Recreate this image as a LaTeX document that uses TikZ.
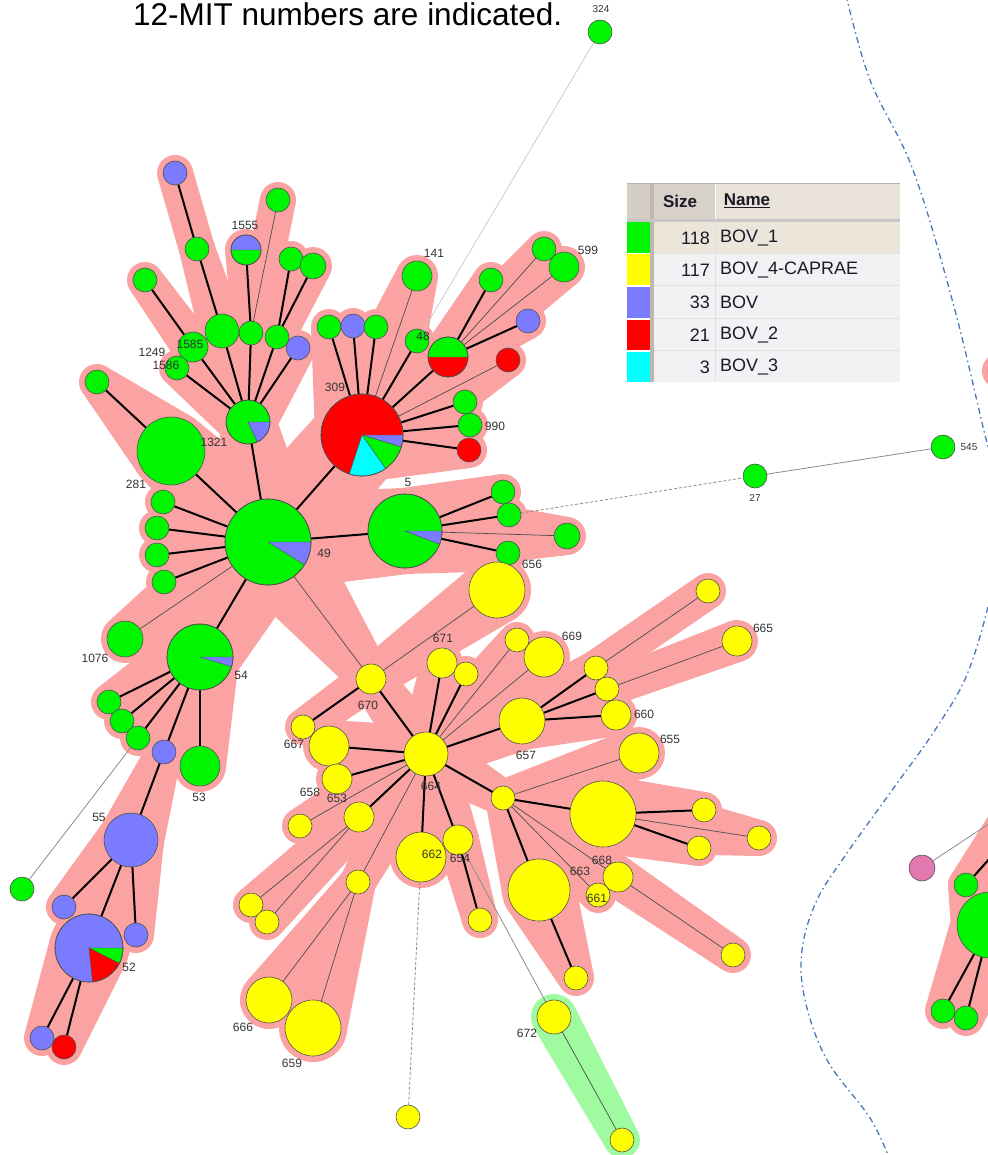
\documentclass[tikz,border=0pt]{standalone}
\usepackage{fontspec}
\setmainfont{Liberation Sans}
\usetikzlibrary{calc}
\pgfdeclarelayer{bg}
\pgfdeclarelayer{halo}
\pgfdeclarelayer{edges}
\pgfsetlayers{bg,halo,edges,main}
\definecolor{cG}{RGB}{0,245,0}
\definecolor{cY}{RGB}{255,255,0}
\definecolor{cB}{RGB}{123,123,255}
\definecolor{cR}{RGB}{255,0,0}
\definecolor{cC}{RGB}{0,255,255}
\definecolor{cP}{RGB}{226,120,176}
\definecolor{halocol}{RGB}{251,163,163}
\definecolor{ghalo}{RGB}{160,250,160}
\definecolor{bord}{RGB}{80,80,80}
\definecolor{curvecol}{RGB}{70,120,190}
\definecolor{hdrL}{RGB}{212,206,198}
\definecolor{hdrS}{RGB}{216,209,200}
\definecolor{hdrN}{RGB}{232,226,216}
\definecolor{sepc}{RGB}{190,184,176}
\definecolor{rowA}{RGB}{236,230,218}
\definecolor{rowB}{RGB}{242,242,245}
\definecolor{ltx}{RGB}{25,25,40}
\tikzset{
  nd/.style={circle, draw=bord, line width=0.6pt, inner sep=0pt, outer sep=0pt},
  lb/.style={font=\fontsize{12}{12}\selectfont, text=black!80, inner sep=0pt},
  lbs/.style={font=\fontsize{10}{10}\selectfont, text=black!80, inner sep=0pt},
  thk/.style={line width=2pt, black},
  thn/.style={line width=0.7pt, black!70},
  lgr/.style={line width=0.7pt, black!22},
  mgr/.style={line width=0.8pt, black!45},
  dsh/.style={line width=0.8pt, black!45, dash pattern=on 3pt off 2pt},
  curve/.style={draw=curvecol, line width=1.3pt, dash pattern=on 6pt off 3.5pt on 1.5pt off 3.5pt},
  lgt/.style={font=\fontsize{18}{18}\selectfont, text=ltx, inner sep=0pt},
}
\def\hm{6pt}
\newcommand\nd[5]{\node[nd, fill=#5, minimum size={2*#4pt}] (#1) at (#2,#3) {};\expandafter\xdef\csname rad-#1\endcsname{#4}}
\newcommand\pie[4]{\edef\pr{\csname rad-#1\endcsname}%
  \fill[#2, draw=bord, line width=0.4pt] (#1.center) -- ++(#3:\pr pt) arc[start angle=#3, end angle=#4, radius=\pr pt] -- cycle;}
\newcommand\rim[1]{\edef\pr{\csname rad-#1\endcsname}\draw[bord, line width=0.6pt] (#1.center) circle[radius=\pr pt];}
\newcommand\hlx[5]{%
  \fill[#1] let \p1=(#2.center), \p2=(#3.center),
    \n1={atan2(\y2-\y1,\x2-\x1)}, \n2={veclen(\x2-\x1,\y2-\y1)},
    \n3={acos((#4-#5)/\n2)} in
    ($(\p1)+(\n1+\n3:#4pt+\hm)$) -- ($(\p2)+(\n1+\n3:#5pt+\hm)$) --
    ($(\p2)+(\n1-\n3:#5pt+\hm)$) -- ($(\p1)+(\n1-\n3:#4pt+\hm)$) -- cycle;
  \fill[#1] (#2.center) circle[radius=#4pt+\hm];
  \fill[#1] (#3.center) circle[radius=#5pt+\hm];}
\newcommand\hl[3][halocol]{\edef\hlcall{\noexpand\hlx{#1}{#2}{#3}{\csname rad-#2\endcsname}{\csname rad-#3\endcsname}}\hlcall}
\begin{document}
\begin{tikzpicture}[x=1pt,y=-1pt]
\useasboundingbox (0,0) rectangle (987,1155);
\begin{pgfonlayer}{bg}
\fill[white] (0,0) rectangle (987,1155);
\end{pgfonlayer}
\node[anchor=base west, font=\fontsize{31.5}{31.5}\selectfont, inner sep=0pt] (title) at (133,26) {12-MIT numbers are indicated.};

% ---------- nodes: top-left cluster
\nd{hA}{248}{422}{22}{cG}
\nd{n1321}{171}{451}{34}{cG}
\nd{t97}{97}{382}{12}{cG}
\nd{tBlue}{175}{173}{12}{cB}
\nd{tG1}{197}{249}{12}{cG}
\nd{tG2}{222}{331}{17}{cG}
\nd{tG3}{278}{200}{12}{cG}
\nd{tG4}{251}{333}{12}{cG}
\nd{n1555}{246}{250}{15}{cG}
\nd{tG5}{291}{259}{12}{cG}
\nd{tG6}{313}{266}{13}{cG}
\nd{tG7}{277}{337}{12}{cG}
\nd{tB2}{298}{348}{12}{cB}
\nd{t145}{145}{280}{12}{cG}
\nd{n1585}{193}{347}{15}{cG}
\nd{n1586}{177}{368}{12}{cG}
% hub 49
\nd{h49}{268}{542}{43}{cG}
\nd{l1}{163}{502}{12}{cG}
\nd{l2}{157}{528}{12}{cG}
\nd{l3}{157}{555}{12}{cG}
\nd{l4}{164}{582}{12}{cG}
\nd{n1076}{125}{639}{18}{cG}
\nd{h54}{200}{657}{33}{cG}
% hub 309
\nd{h309}{362}{435}{41}{cR}
\nd{a1}{329}{327}{12}{cG}
\nd{a2}{353}{326}{12}{cB}
\nd{a3}{376}{327}{12}{cG}
\nd{n141}{417}{276}{15}{cG}
\nd{n48}{417}{341}{12}{cG}
\nd{p48}{448}{357}{20}{cR}
\nd{b1}{491}{280}{12}{cG}
\nd{b2}{544}{249}{12}{cG}
\nd{n599}{564}{267}{15}{cG}
\nd{b3}{528}{321}{12}{cB}
\nd{c1}{508}{360}{12}{cR}
\nd{c2}{465}{402}{12}{cG}
\nd{n990}{470}{425}{12}{cG}
\nd{c3}{469}{450}{12}{cR}
\nd{n324}{600}{32}{12}{cG}
% hub 5
\nd{h5}{405}{531}{37}{cG}
\nd{d1}{503}{492}{12}{cG}
\nd{d2}{509}{515}{12}{cG}
\nd{d3}{567}{536}{13}{cG}
\nd{n656}{508}{553}{12}{cG}
\nd{n27}{755}{476}{12}{cG}
\nd{n545}{943}{447}{12}{cG}
% yellow cluster
\nd{Y1}{497}{590}{28}{cY}
\nd{n670}{371}{679}{15}{cY}
\nd{n667}{303}{727}{12}{cY}
\nd{h664}{426}{754}{22}{cY}
\nd{n671}{442}{663}{15}{cY}
\nd{e1}{466}{674}{12}{cY}
\nd{e2}{517}{640}{12}{cY}
\nd{n669}{544}{657}{20}{cY}
\nd{n657}{522}{721}{23}{cY}
\nd{hs}{503}{798}{12}{cY}
\nd{n654}{458}{840}{15}{cY}
\nd{n662}{421}{857}{25}{cY}
\nd{f1}{329}{746}{20}{cY}
\nd{n653}{337}{779}{15}{cY}
\nd{f2}{359}{817}{15}{cY}
\nd{f3}{300}{826}{12}{cY}
\nd{f4}{358}{882}{12}{cY}
\nd{g1}{251}{905}{12}{cY}
\nd{g2}{267}{922}{12}{cY}
\nd{n666}{269}{1000}{23}{cY}
\nd{n659}{313}{1028}{28}{cY}
\nd{ybot}{408}{1117}{12}{cY}
\nd{k1}{480}{920}{12}{cY}
\nd{n672}{554}{1017}{17}{cY}
\nd{yend}{622}{1140}{12}{cY}
\nd{m1}{596}{668}{12}{cY}
\nd{m2}{607}{689}{12}{cY}
\nd{n660}{616}{715}{15}{cY}
\nd{m3}{708}{591}{12}{cY}
\nd{n665}{737}{641}{15}{cY}
\nd{n655}{639}{753}{20}{cY}
\nd{Yb}{603}{814}{33}{cY}
\nd{q1}{704}{810}{12}{cY}
\nd{q2}{759}{838}{12}{cY}
\nd{q3}{699}{848}{12}{cY}
\nd{n663}{539}{890}{31}{cY}
\nd{q4}{576}{978}{12}{cY}
\nd{n668}{618}{877}{15}{cY}
\nd{q5}{733}{955}{12}{cY}
\nd{n661}{598}{895}{12}{cY}
% bottom-left
\nd{s1}{109}{702}{12}{cG}
\nd{s2}{122}{721}{12}{cG}
\nd{s3}{138}{738}{12}{cG}
\nd{s4}{164}{752}{12}{cB}
\nd{n53}{200}{766}{20}{cG}
\nd{s5}{22}{889}{12}{cG}
\nd{n55}{131}{840}{27}{cB}
\nd{u1}{64}{907}{12}{cB}
\nd{h52}{89}{948}{34}{cB}
\nd{u2}{136}{935}{12}{cB}
\nd{v1}{42}{1038}{12}{cB}
\nd{v2}{64}{1047}{12}{cR}
% right partial cluster
\nd{rtop}{1000}{371}{12}{cB}
\nd{pk}{922}{868}{13}{cP}
\nd{rg1}{966}{885}{12}{cG}
\nd{rbig}{990}{925}{33}{cG}
\nd{rg2}{943}{1011}{12}{cG}
\nd{rg3}{966}{1018}{12}{cG}
\coordinate (offA) at (1040,790);
\coordinate (offB) at (1015,830);
\expandafter\xdef\csname rad-offB\endcsname{24}

% ---------- pies
\pie{hA}{cB}{-65}{0}\rim{hA}
\pie{h49}{cB}{-32}{0}\rim{h49}
\pie{h54}{cB}{-17}{0}\rim{h54}
\pie{h309}{cB}{-17}{0}\pie{h309}{cG}{-55}{-17}\pie{h309}{cC}{-108}{-55}\rim{h309}
\pie{h5}{cB}{-21}{0}\rim{h5}
\pie{p48}{cG}{0}{180}\rim{p48}
\pie{n1555}{cB}{0}{180}\rim{n1555}
\pie{h52}{cG}{-27}{0}\pie{h52}{cR}{-84}{-27}\rim{h52}

% ---------- labels
\node[lb] (L1555) at (245,225) {1555};
\node[lb] (L1249) at (152,352) {1249};
\node[lb] (L1585) at (190,344) {1585};
\node[lb] (L1586) at (166,365) {1586};
\node[lb] (L1321) at (214,442) {1321};
\node[lb] (L281) at (136,484) {281};
\node[lb] (L49) at (324,553) {49};
\node[lb] (L54) at (241,675) {54};
\node[lb] (L1076) at (95,658) {1076};
\node[lb] (L309) at (335,387) {309};
\node[lb] (L141) at (434,253) {141};
\node[lb] (L48) at (423,336) {48};
\node[lb] (L599) at (588,250) {599};
\node[lb] (L990) at (495,426) {990};
\node[lb] (L5) at (408,482) {5};
\node[lb] (L656) at (532,564) {656};
\node[lbs] (L324) at (601,9) {324};
\node[lbs] (L27) at (755,498) {27};
\node[lbs] (L545) at (969,447) {545};
\node[lb] (L671) at (443,638) {671};
\node[lb] (L670) at (368,705) {670};
\node[lb] (L667) at (294,744) {667};
\node[lb] (L657) at (526,755) {657};
\node[lb] (L664) at (431,786) {664};
\node[lb] (L658) at (310,792) {658};
\node[lb] (L653) at (337,798) {653};
\node[lb] (L662) at (432,854) {662};
\node[lb] (L654) at (460,858) {654};
\node[lb] (L669) at (572,636) {669};
\node[lb] (L665) at (763,628) {665};
\node[lb] (L660) at (644,714) {660};
\node[lb] (L655) at (670,739) {655};
\node[lb] (L668) at (602,860) {668};
\node[lb] (L663) at (580,871) {663};
\node[lb] (L661) at (597,898) {661};
\node[lb] (L666) at (243,1027) {666};
\node[lb] (L659) at (292,1063) {659};
\node[lb] (L672) at (527,1033) {672};
\node[lb] (L53) at (199,797) {53};
\node[lb] (L55) at (99,817) {55};
\node[lb] (L52) at (129,967) {52};

% ---------- halos
\begin{pgfonlayer}{halo}
\hl{tBlue}{tG1}\hl{tG1}{tG2}\hl{tG2}{hA}\hl{tG3}{tG4}\hl{n1555}{tG4}\hl{tG4}{hA}
\hl{tG5}{tG7}\hl{tG6}{tG7}\hl{tG7}{hA}\hl{tB2}{hA}\hl{t145}{n1585}\hl{n1585}{hA}
\hl{n1586}{hA}\hl{t97}{n1321}\hl{n1321}{h49}\hl{hA}{h49}
\hl{h49}{l1}\hl{h49}{l2}\hl{h49}{l3}\hl{h49}{l4}\hl{h49}{n1076}\hl{h49}{h54}
\hl{h49}{h309}\hl{h49}{h5}\hl{h49}{n670}
\hl{h309}{a1}\hl{h309}{a2}\hl{h309}{a3}\hl{h309}{n141}\hl{h309}{n48}\hl{h309}{p48}
\hl{h309}{c1}\hl{h309}{c2}\hl{h309}{n990}\hl{h309}{c3}
\hl{p48}{b1}\hl{p48}{b2}\hl{p48}{n599}\hl{p48}{b3}
\hl{h5}{d1}\hl{h5}{d2}\hl{h5}{d3}\hl{h5}{n656}
\hl{Y1}{n670}\hl{n670}{n667}\hl{n670}{h664}
\hl{h664}{n671}\hl{h664}{e1}\hl{h664}{e2}\hl{h664}{n669}\hl{h664}{n657}\hl{h664}{hs}
\hl{h664}{n654}\hl{h664}{n662}\hl{h664}{f1}\hl{h664}{n653}\hl{h664}{f2}\hl{h664}{f3}\hl{h664}{f4}
\hl{f2}{g1}\hl{f2}{g2}\hl{f4}{n666}\hl{f4}{n659}\hl{n654}{k1}
\hl{n657}{m1}\hl{n657}{m2}\hl{n657}{n660}\hl{m1}{m3}\hl{m2}{n665}
\hl{hs}{n655}\hl{hs}{Yb}\hl{Yb}{q1}\hl{Yb}{q2}\hl{Yb}{q3}\hl{hs}{n663}\hl{n663}{q4}
\hl{hs}{n668}\hl{n668}{q5}\hl{hs}{n661}
\hl{h54}{s1}\hl{h54}{s2}\hl{h54}{s3}\hl{h54}{s4}\hl{h54}{n53}\hl{s4}{n55}
\hl{n55}{u1}\hl{n55}{h52}\hl{n55}{u2}\hl{h52}{v1}\hl{h52}{v2}
\hl[ghalo]{n672}{yend}
\hl{rbig}{rg2}\hl{rbig}{rg3}\hl{rbig}{rg1}\hl{rg1}{offB}
\fill[halocol] (rtop) circle[radius=18pt];
\end{pgfonlayer}

% ---------- edges
\begin{pgfonlayer}{edges}
\draw[thk] (tBlue) -- (tG1); \draw[thk] (tG1) -- (tG2); \draw[thk] (tG2) -- (hA);
\draw[thn] (tG3) -- (tG4); \draw[thk] (n1555) -- (tG4); \draw[thk] (tG4) -- (hA);
\draw[thk] (tG5) -- (tG7); \draw[thk] (tG6) -- (tG7); \draw[thk] (tG7) -- (hA);
\draw[thk] (tB2) -- (hA); \draw[thk] (t145) -- (n1585); \draw[thk] (n1585) -- (hA);
\draw[thk] (n1586) -- (hA); \draw[thk] (t97) -- (n1321); \draw[thk] (n1321) -- (h49);
\draw[thk] (hA) -- (h49);
\draw[thk] (h49) -- (l1); \draw[thk] (h49) -- (l2); \draw[thk] (h49) -- (l3); \draw[thk] (h49) -- (l4);
\draw[thn] (h49) -- (n1076); \draw[thk] (h49) -- (h54); \draw[thk] (h49) -- (h309);
\draw[thk] (h49) -- (h5); \draw[thn] (h49) -- (n670);
\draw[thk] (h309) -- (a1); \draw[thk] (h309) -- (a2); \draw[thk] (h309) -- (a3);
\draw[thn] (h309) -- (n141); \draw[thk] (h309) -- (n48); \draw[thk] (h309) -- (p48);
\draw[thn] (h309) -- (c1); \draw[thk] (h309) -- (c2); \draw[thk] (h309) -- (n990); \draw[thk] (h309) -- (c3);
\draw[thk] (p48) -- (b1); \draw[thn] (p48) -- (b2); \draw[thn] (p48) -- (n599); \draw[thk] (p48) -- (b3);
\draw[lgr] (n324) -- (n48);
\draw[thk] (h5) -- (d1); \draw[thk] (h5) -- (d2); \draw[thn] (h5) -- (d3); \draw[thk] (h5) -- (n656);
\draw[dsh] (d2) -- (n27); \draw[mgr] (n27) -- (n545);
\draw[thn] (Y1) -- (n670); \draw[thk] (n670) -- (n667); \draw[thk] (n670) -- (h664);
\draw[thk] (h664) -- (n671); \draw[thk] (h664) -- (e1); \draw[thn] (h664) -- (e2);
\draw[thn] (h664) -- (n669); \draw[thk] (h664) -- (n657); \draw[thk] (h664) -- (hs);
\draw[thk] (h664) -- (n654); \draw[thk] (h664) -- (n662); \draw[thk] (h664) -- (f1);
\draw[thk] (h664) -- (n653); \draw[thk] (h664) -- (f2); \draw[thn] (h664) -- (f3); \draw[thn] (h664) -- (f4);
\draw[thn] (f2) -- (g1); \draw[thn] (f2) -- (g2); \draw[thn] (f4) -- (n666); \draw[thn] (f4) -- (n659);
\draw[dsh] (n662) -- (ybot); \draw[thk] (n654) -- (k1); \draw[mgr] (n654) -- (n672); \draw[thn] (n672) -- (yend);
\draw[thk] (n657) -- (m1); \draw[thk] (n657) -- (m2); \draw[thk] (n657) -- (n660);
\draw[thn] (m1) -- (m3); \draw[thn] (m2) -- (n665);
\draw[thn] (hs) -- (n655); \draw[thk] (hs) -- (Yb); \draw[thk] (Yb) -- (q1); \draw[thn] (Yb) -- (q2); \draw[thk] (Yb) -- (q3);
\draw[thk] (hs) -- (n663); \draw[thk] (n663) -- (q4); \draw[thn] (hs) -- (n668); \draw[thn] (n668) -- (q5); \draw[thn] (hs) -- (n661);
\draw[thk] (h54) -- (s1); \draw[thk] (h54) -- (s2); \draw[thk] (h54) -- (s3); \draw[thk] (h54) -- (s4); \draw[thk] (h54) -- (n53);
\draw[mgr] (s3) -- (s5); \draw[thk] (s4) -- (n55);
\draw[thk] (n55) -- (u1); \draw[thk] (n55) -- (h52); \draw[thk] (n55) -- (u2);
\draw[thk] (h52) -- (v1); \draw[thk] (h52) -- (v2);
\draw[mgr] (pk) -- (offA); \draw[thk] (rg1) -- (offB);
\draw[thk] (rbig) -- (rg2); \draw[thk] (rbig) -- (rg3);
\end{pgfonlayer}

% ---------- dash-dot curve
\draw[curve] plot[smooth, tension=0.6] coordinates {(846,-5) (870,80) (913,170) (953,303) (983,427) (1000,500) (996,570) (970,667) (937,727) (890,793) (847,853) (817,900) (802,950) (805,1000) (827,1060) (870,1118) (890,1160)};

% ---------- legend
\fill[hdrL] (627,183) rectangle (650,220);
\fill[hdrS] (654,183) rectangle (715,220);
\fill[hdrN] (716,183) rectangle (900,220);
\fill[sepc] (650,183) rectangle (654,382);
\draw[black!30, line width=0.6pt] (627,183) -- (900,183);
\fill[black!22] (627,219) rectangle (900,222);
\fill[rowA] (654,222) rectangle (900,253);
\fill[rowB] (654,254) rectangle (900,382);
\foreach \yy in {253.5,286,318.5,350.5} {\draw[black!12, line width=1pt] (654,\yy) -- (900,\yy);}
\draw[black!12, line width=1.2pt] (715.5,220) -- (715.5,382);
\fill[cG] (627,222) rectangle (650,253);
\fill[cY] (627,254.5) rectangle (650,285.5);
\fill[cB] (627,287) rectangle (650,318);
\fill[cR] (627,319.5) rectangle (650,350);
\fill[cC] (627,351.5) rectangle (650,382);
\node[lgt, font=\fontsize{17}{17}\selectfont\bfseries] (hSize) at (680,201) {Size};
\node[lgt, font=\fontsize{17}{17}\selectfont\bfseries] (hName) at (747,201) {\underline{Name}};
\node[lgt, anchor=east] (z1) at (710,238) {118};
\node[lgt, anchor=west] (w1) at (720,238) {BOV\_1};
\node[lgt, anchor=east] (z2) at (710,270) {117};
\node[lgt, anchor=west] (w2) at (720,270) {BOV\_4-CAPRAE};
\node[lgt, anchor=east] (z3) at (710,302) {33};
\node[lgt, anchor=west] (w3) at (720,302) {BOV};
\node[lgt, anchor=east] (z4) at (710,335) {21};
\node[lgt, anchor=west] (w4) at (720,335) {BOV\_2};
\node[lgt, anchor=east] (z5) at (710,367) {3};
\node[lgt, anchor=west] (w5) at (720,367) {BOV\_3};
\end{tikzpicture}
\end{document}
